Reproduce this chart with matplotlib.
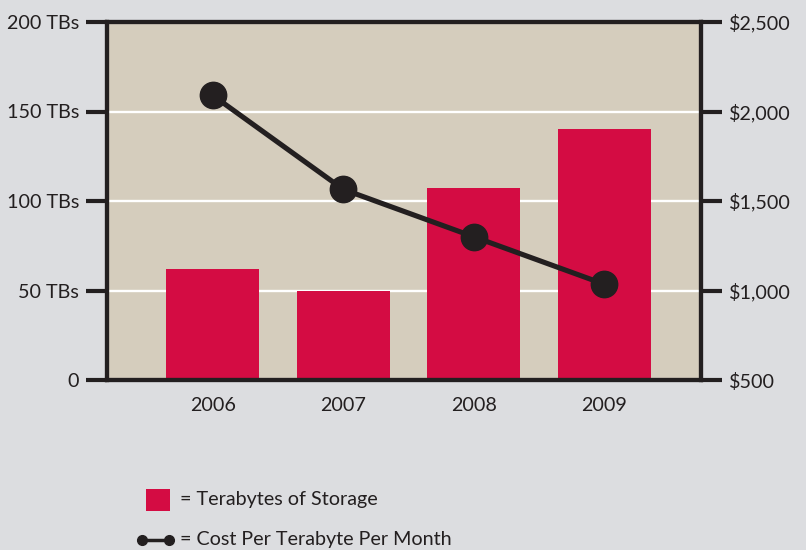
import matplotlib
matplotlib.use("Agg")
import matplotlib.pyplot as plt
from matplotlib.patches import Rectangle
from matplotlib.lines import Line2D

years = ["2006", "2007", "2008", "2009"]
storage_tb = [62, 50, 107, 140]
cost_per_tb = [2090, 1565, 1300, 1035]
left_ticks = [0, 50, 100, 150, 200]
left_labels = ["0", "50 TBs", "100 TBs", "150 TBs", "200 TBs"]
right_ticks = [500, 1000, 1500, 2000, 2500]
right_labels = ["$500", "$1,000", "$1,500", "$2,000", "$2,500"]

plt.rcParams['font.family'] = ['Lato', 'DejaVu Sans']

W, H = 806, 550
fig = plt.figure(figsize=(W/100, H/100), dpi=100)
bg = '#dcdde0'
fig.patch.set_facecolor(bg)
ink = '#231f20'
fs = 14.2

ax = fig.add_axes([107/W, 1-380/H, (701-107)/W, (380-22)/H])
ax.set_facecolor('#d5cdbd')
x = list(range(len(years)))
ax.bar(x, storage_tb, width=0.71, color='#d40c43', zorder=2)
ax.set_xlim(-0.81, 3.74)
ax.set_ylim(0, 200)
ax.set_yticks(left_ticks)
ax.set_yticklabels(left_labels)
for v in left_ticks[1:-1]:
    ax.axhline(v, color='white', lw=1.7, zorder=1)
ax.set_xticks(x)
ax.set_xticklabels(years)
ax.tick_params(axis='x', length=0, pad=12, labelsize=fs, colors=ink)
ax.tick_params(axis='y', length=15, width=3, pad=5, labelsize=fs, colors=ink, direction='out')
for s in ax.spines.values():
    s.set_linewidth(3)
    s.set_color(ink)

ax2 = ax.twinx()
ax2.plot(x, cost_per_tb, color=ink, lw=3.7, marker='o', markersize=19, zorder=5)
ax2.set_ylim(500, 2500)
ax2.set_yticks(right_ticks)
ax2.set_yticklabels(right_labels)
ax2.tick_params(axis='y', length=15, width=3, pad=5, labelsize=fs, colors=ink, direction='out')
for s in ax2.spines.values():
    s.set_linewidth(3)
    s.set_color(ink)

# legend
fig.patches.append(Rectangle((146/W, 1-511/H), 24/W, 22/H, transform=fig.transFigure,
                             facecolor='#d40c43', edgecolor='none'))
fig.text(180/W, 1-500/H, "= Terabytes of Storage", fontsize=fs, va='center', ha='left', color=ink)
fig.lines.append(Line2D([142/W, 169/W], [1-540/H, 1-540/H], transform=fig.transFigure,
                        color=ink, lw=2.5, marker='o', markersize=7))
fig.text(180/W, 1-539/H, "= Cost Per Terabyte Per Month", fontsize=fs, va='center', ha='left', color=ink)

fig.savefig('out.png', dpi=100, facecolor=bg)
